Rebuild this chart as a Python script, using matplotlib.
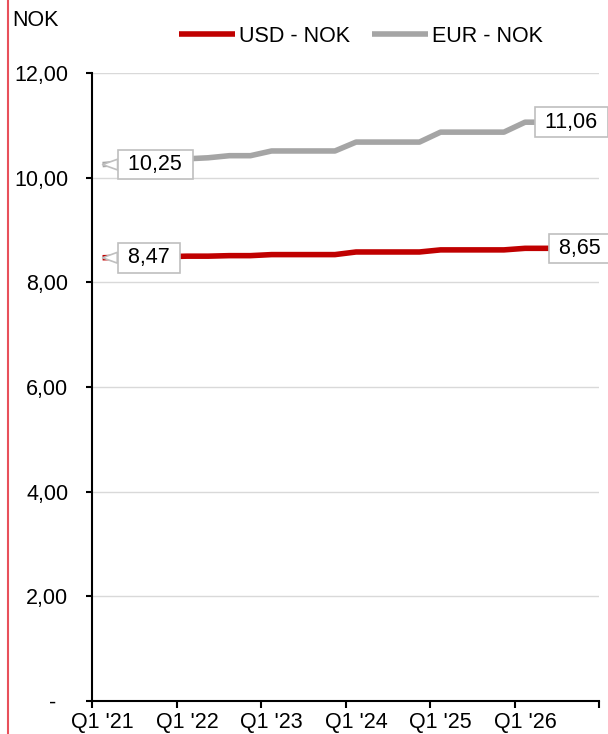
import numpy as np
import matplotlib.pyplot as plt
from matplotlib.lines import Line2D

plt.rcParams['font.family'] = ['Liberation Sans', 'DejaVu Sans']

# quarterly values, Q1 '21 .. Q4 '26
usd_nok = [8.47, 8.48, 8.49, 8.49, 8.50, 8.50, 8.51, 8.51,
           8.53, 8.53, 8.53, 8.53, 8.58, 8.58, 8.58, 8.58,
           8.62, 8.62, 8.62, 8.62, 8.65, 8.65, 8.65, 8.65]
eur_nok = [10.25, 10.28, 10.31, 10.33, 10.36, 10.38, 10.42, 10.42,
           10.51, 10.51, 10.51, 10.51, 10.68, 10.68, 10.68, 10.68,
           10.87, 10.87, 10.87, 10.87, 11.06, 11.06, 11.06, 11.06]
year_labels = ["Q1 '21", "Q1 '22", "Q1 '23", "Q1 '24", "Q1 '25", "Q1 '26"]
y_ticks = [0, 2, 4, 6, 8, 10, 12]
y_labels = ["-  ", "2,00", "4,00", "6,00", "8,00", "10,00", "12,00"]

red = '#C00000'
grey = '#A5A5A5'
fs = 15.5

fig = plt.figure(figsize=(6.08, 7.34), dpi=100)
ax = fig.add_axes([92/608, 33/734, 507/608, 628/734])

x = np.arange(len(usd_nok))
ax.plot(x, usd_nok, color=red, lw=4, solid_capstyle='butt', label='USD - NOK', zorder=3)
ax.plot(x, eur_nok, color=grey, lw=4, solid_capstyle='butt', label='EUR - NOK', zorder=3)

ax.set_xlim(-0.5, len(x) - 0.5)
ax.set_ylim(0, 12)
ax.set_yticks(y_ticks)
ax.set_yticklabels(y_labels)
ax.yaxis.grid(True, color='#D9D9D9', lw=1)
ax.set_axisbelow(True)

ax.set_xticks(np.arange(-0.5, len(x), 4))
ax.set_xticklabels([])
ax.set_xticks(np.arange(0, len(x), 4), minor=True)
ax.set_xticklabels(year_labels, minor=True)
ax.tick_params(axis='x', which='major', length=5, width=1.5, direction='out')
ax.tick_params(axis='x', which='minor', length=0, pad=8, labelsize=fs)
ax.tick_params(axis='y', length=4, width=1.5, pad=13, labelsize=fs)

for s in ['top', 'right']:
    ax.spines[s].set_visible(False)
for s in ['left', 'bottom']:
    ax.spines[s].set_linewidth(1.5)

box = dict(boxstyle='square,pad=0.2', fc='white', ec='#BFBFBF', lw=1.2)
wedge = dict(arrowstyle='wedge,tail_width=0.5', fc='white', ec='#BFBFBF', lw=1.2,
             shrinkA=0, shrinkB=0)

ax.annotate(' 10,25 ', xy=(0, eur_nok[0]), xytext=(2.5, eur_nok[0]), fontsize=fs,
            ha='center', va='center', bbox=box, arrowprops=wedge, zorder=5)
ax.annotate(' 8,47 ', xy=(0, usd_nok[0]), xytext=(2.2, usd_nok[0]), fontsize=fs,
            ha='center', va='center', bbox=box, arrowprops=wedge, zorder=5)
ax.annotate(' 11,06 ', xy=(23, eur_nok[-1]), xytext=(22.2, eur_nok[-1]), fontsize=fs,
            ha='center', va='center', bbox=box, zorder=5)
ax.annotate(' 8,65 ', xy=(23, usd_nok[-1]), xytext=(22.6, usd_nok[-1]), fontsize=fs,
            ha='center', va='center', bbox=box, zorder=5)

fig.text(12/608, 1 - 20/734, 'NOK', fontsize=fs, ha='left', va='center')

fig.legend(loc='center', bbox_to_anchor=(361/608, 1 - 36/734), ncol=2, frameon=False,
           fontsize=fs, handlelength=2.6, handletextpad=0.2, columnspacing=1.0)

fig.add_artist(Line2D([8/608, 8/608], [0, 1], color='#E8505B', lw=1.5))

fig.savefig('out.png', dpi=100)
